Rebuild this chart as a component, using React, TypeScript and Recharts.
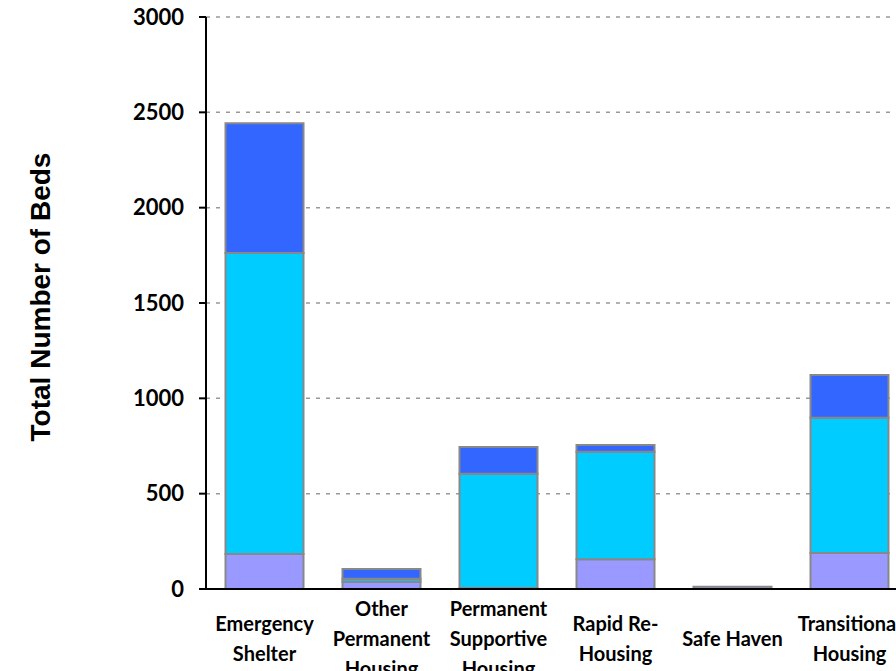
import { BarChart, Bar, XAxis, YAxis, CartesianGrid, Label } from 'recharts';

const categories = [
  'Emergency\nShelter',
  'Other\nPermanent\nHousing',
  'Permanent\nSupportive\nHousing',
  'Rapid Re-\nHousing',
  'Safe Haven',
  'Transitional\nHousing',
];
const lavenderBeds = [184, 38, 5, 156, 12, 189];
const cyanBeds = [1578, 16, 600, 564, 0, 709];
const blueBeds = [681, 51, 140, 35, 0, 224];
const yTicks = [0, 500, 1000, 1500, 2000, 2500, 3000];

const data = categories.map((name, i) => ({
  name,
  lavender: lavenderBeds[i],
  cyan: cyanBeds[i],
  blue: blueBeds[i],
}));

const tickFont = 'Lato, "Open Sans", sans-serif';

function CategoryTick({ x, y, payload }: any) {
  const lines = String(payload.value).split('\n');
  const lineHeight = 30;
  const top = y + 50 - ((lines.length - 1) * lineHeight) / 2;
  return (
    <text textAnchor="middle" fontFamily={tickFont} fontWeight="bold" fontSize={20} fill="#000">
      {lines.map((line, i) => (
        <tspan key={i} x={x} y={top + i * lineHeight} dy="0.35em">
          {line}
        </tspan>
      ))}
    </text>
  );
}

function AxisTitle() {
  return (
    <text
      transform="translate(40, 297) rotate(-90)"
      textAnchor="middle"
      dy="0.35em"
      fontFamily='"Liberation Sans", Arial, sans-serif'
      fontWeight="bold"
      fontSize={28}
      fill="#000"
    >
      Total Number of Beds
    </text>
  );
}

export default function App() {
  return (
    <div
      style={{
        position: 'fixed',
        left: 0,
        top: 0,
        width: 896,
        height: 671,
        overflow: 'hidden',
        background: '#fff',
      }}
    >
      <BarChart
        width={930}
        height={671}
        data={data}
        margin={{ top: 17, right: 22, bottom: 52, left: 0 }}
        barCategoryGap={19.5}
      >
        <CartesianGrid vertical={false} stroke="#999" strokeWidth={1.5} strokeDasharray="4 6" />
        <XAxis
          dataKey="name"
          height={30}
          interval={0}
          tickLine={false}
          tickSize={0}
          tickMargin={0}
          axisLine={{ stroke: '#000', strokeWidth: 2 }}
          tick={<CategoryTick />}
        />
        <YAxis
          width={206}
          domain={[0, 3000]}
          ticks={yTicks}
          interval={0}
          tickSize={7}
          tickMargin={15}
          axisLine={{ stroke: '#000', strokeWidth: 2 }}
          tickLine={{ stroke: '#000', strokeWidth: 2 }}
          tick={{ fontFamily: tickFont, fontWeight: 'bold', fontSize: 22, fill: '#000' }}
        >
          <Label content={<AxisTitle />} />
        </YAxis>
        <Bar dataKey="lavender" stackId="a" fill="#9999FF" stroke="#888" strokeWidth={2} isAnimationActive={false} />
        <Bar dataKey="cyan" stackId="a" fill="#00CCFF" stroke="#888" strokeWidth={2} isAnimationActive={false} />
        <Bar dataKey="blue" stackId="a" fill="#3366FF" stroke="#888" strokeWidth={2} isAnimationActive={false} />
      </BarChart>
    </div>
  );
}
